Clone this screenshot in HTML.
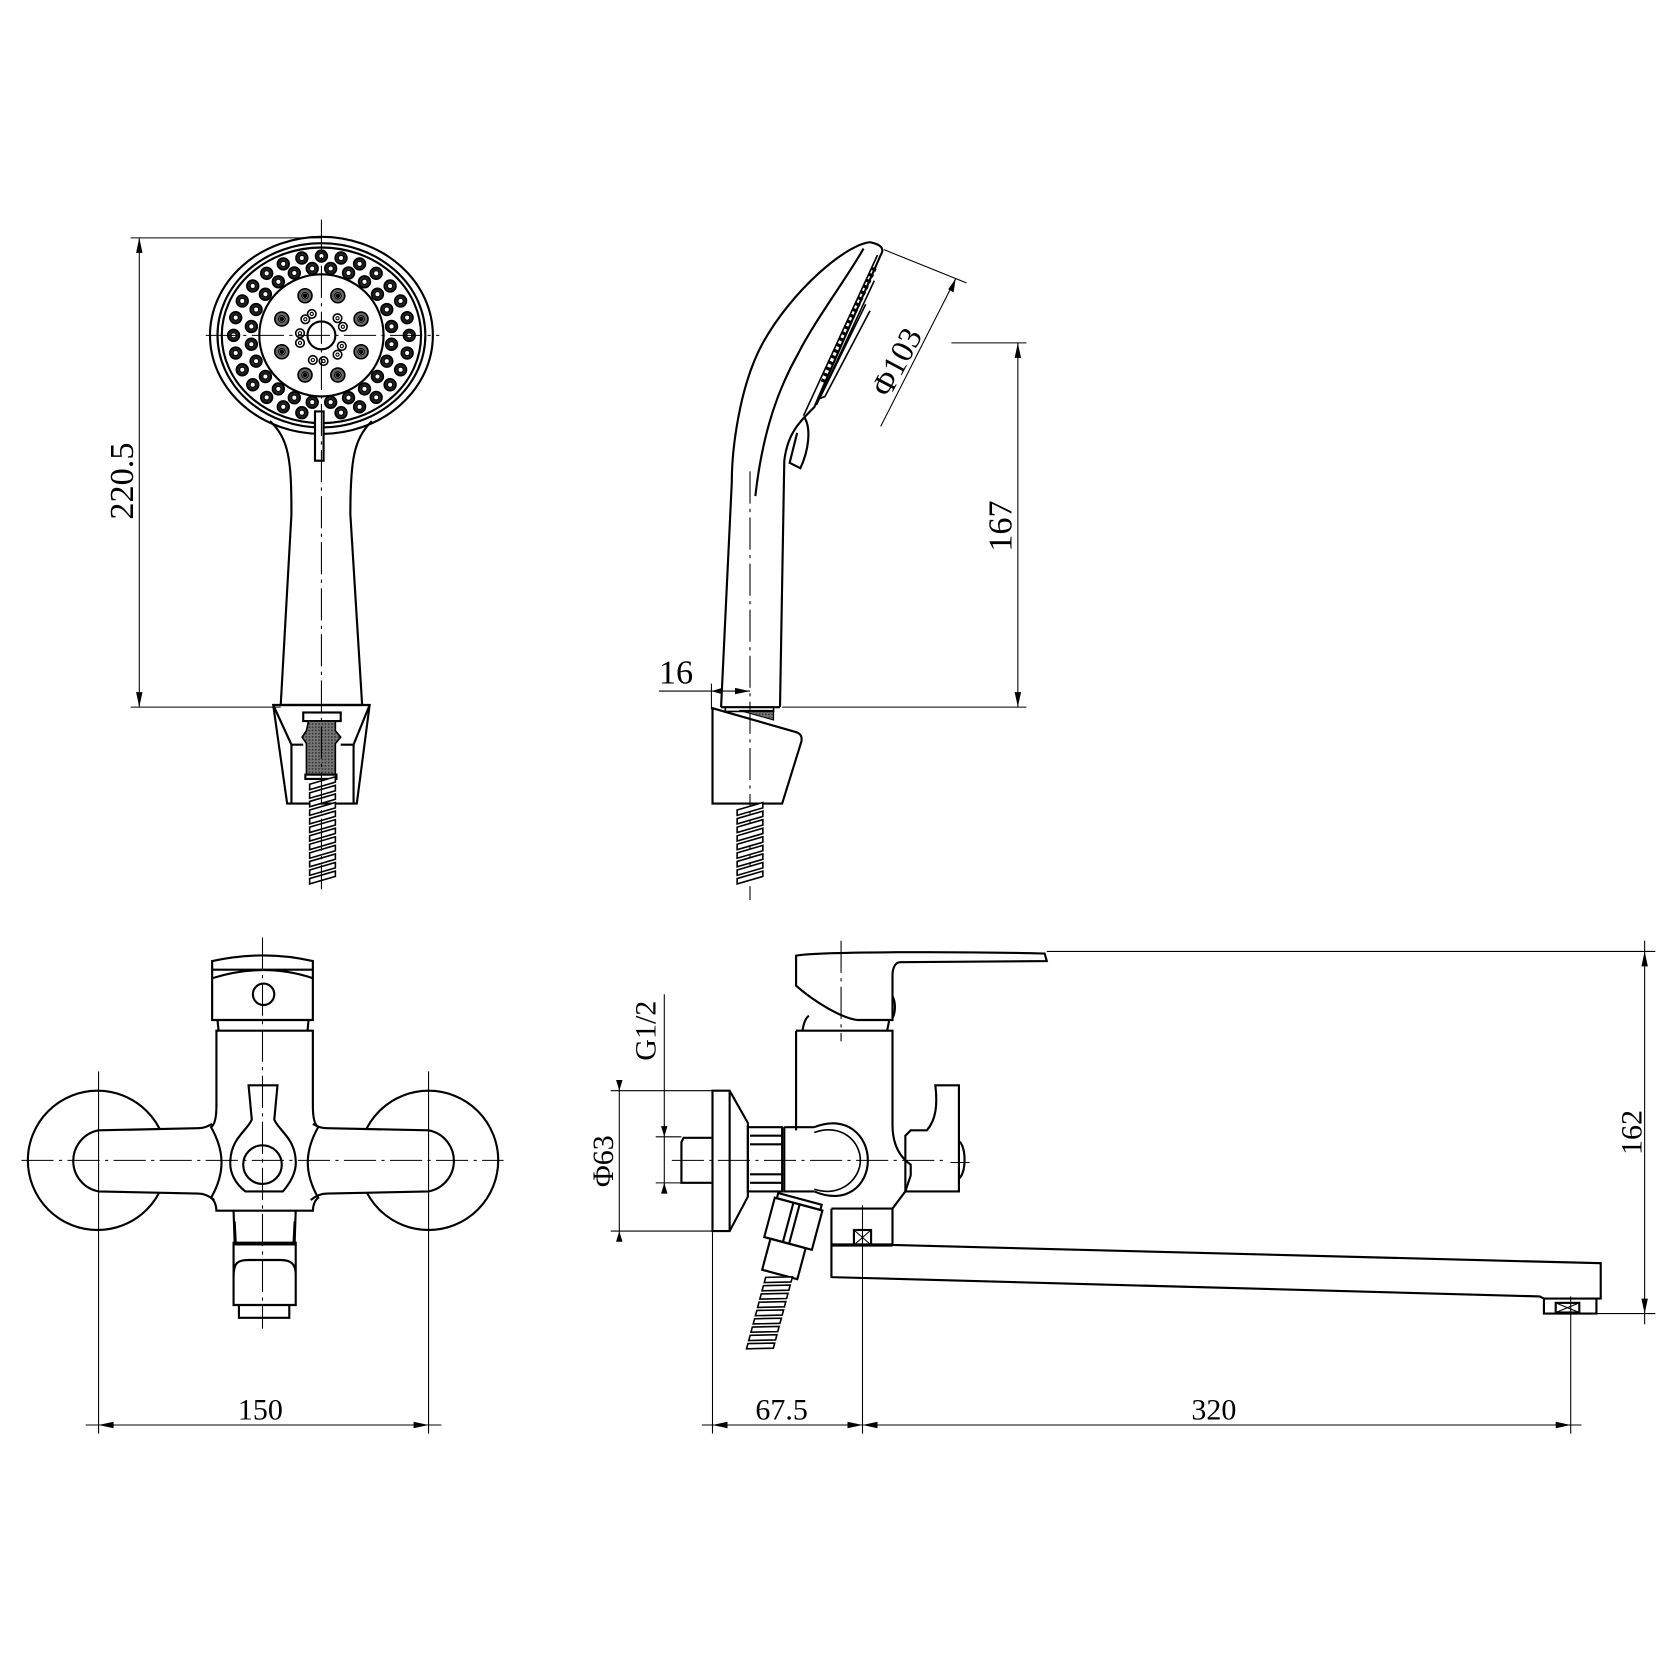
<!DOCTYPE html>
<html><head><meta charset="utf-8"><style>
html,body{margin:0;padding:0;background:#fff;}
svg{display:block}
text{font-family:"Liberation Serif",serif;fill:#000}
</style></head><body>
<svg width="1680" height="1680" viewBox="0 0 1568 1568" xmlns="http://www.w3.org/2000/svg">
<defs>
<pattern id="hatch" width="3" height="3" patternUnits="userSpaceOnUse"><rect width="3" height="3" fill="#777"/><rect width="1.5" height="1.5" fill="#333"/></pattern>
<g id="ho"><circle r="5.5" fill="#222" stroke="#000" stroke-width="1.5"/><circle r="2.4" fill="#fff" stroke="#000" stroke-width="1"/></g>
<g id="hm"><circle r="6.5" fill="#666" stroke="#000" stroke-width="1.5"/><circle r="3" fill="#fff" stroke="#000" stroke-width="1"/><circle r="1.2" fill="#000"/></g>
<g id="hs"><circle r="4" fill="#fff" stroke="#000" stroke-width="1.5"/><circle r="1.5" fill="none" stroke="#000" stroke-width="1"/></g>
<path id="st" d="M-12,4 L12,-3 L12,2 L-12,9 Z" fill="#fff" stroke="#000" stroke-width="1.5"/>
</defs>
<g fill="none" stroke="#000" stroke-width="2">

<!-- ===== Shower front ===== -->
<ellipse cx="300" cy="313" rx="104" ry="92"/>
<ellipse cx="300" cy="313" rx="97" ry="86"/>
<ellipse cx="300" cy="313" rx="93" ry="82"/>
<ellipse cx="300" cy="313" rx="58" ry="57"/>
<circle cx="300" cy="313" r="13"/>
<path d="M252,393 C270,410 272,430 272,480 L262,658 M347,393 C330,410 327,430 327,480 L338,658"/>
<line x1="262" y1="658" x2="338" y2="658"/>
<rect x="294" y="384" width="8" height="46" fill="#fff"/>
<g transform="translate(300,313)">
<use href="#ho" x="82" y="0"/><use href="#ho" x="-82" y="0"/>
<use href="#ho" x="80" y="16.5"/><use href="#ho" x="-80" y="16.5"/><use href="#ho" x="80" y="-16.5"/><use href="#ho" x="-80" y="-16.5"/>
<use href="#ho" x="73.9" y="32.1"/><use href="#ho" x="-73.9" y="32.1"/><use href="#ho" x="73.9" y="-32.1"/><use href="#ho" x="-73.9" y="-32.1"/>
<use href="#ho" x="64.1" y="46.1"/><use href="#ho" x="-64.1" y="46.1"/><use href="#ho" x="64.1" y="-46.1"/><use href="#ho" x="-64.1" y="-46.1"/>
<use href="#ho" x="51.1" y="57.9"/><use href="#ho" x="-51.1" y="57.9"/><use href="#ho" x="51.1" y="-57.9"/><use href="#ho" x="-51.1" y="-57.9"/>
<use href="#ho" x="35.6" y="66.7"/><use href="#ho" x="-35.6" y="66.7"/><use href="#ho" x="35.6" y="-66.7"/><use href="#ho" x="-35.6" y="-66.7"/>
<use href="#ho" x="18.3" y="72.2"/><use href="#ho" x="-18.3" y="72.2"/><use href="#ho" x="18.3" y="-72.2"/><use href="#ho" x="-18.3" y="-72.2"/>
<use href="#ho" x="0" y="-74"/>
<use href="#ho" x="65.4" y="8.3"/><use href="#ho" x="-65.4" y="8.3"/><use href="#ho" x="65.4" y="-8.3"/><use href="#ho" x="-65.4" y="-8.3"/>
<use href="#ho" x="61" y="24.1"/><use href="#ho" x="-61" y="24.1"/><use href="#ho" x="61" y="-24.1"/><use href="#ho" x="-61" y="-24.1"/>
<use href="#ho" x="52.3" y="38.4"/><use href="#ho" x="-52.3" y="38.4"/><use href="#ho" x="52.3" y="-38.4"/><use href="#ho" x="-52.3" y="-38.4"/>
<use href="#ho" x="40.2" y="50"/><use href="#ho" x="-40.2" y="50"/><use href="#ho" x="40.2" y="-50"/><use href="#ho" x="-40.2" y="-50"/>
<use href="#ho" x="25.3" y="58.2"/><use href="#ho" x="-25.3" y="58.2"/><use href="#ho" x="25.3" y="-58.2"/><use href="#ho" x="-25.3" y="-58.2"/>
<use href="#ho" x="8.6" y="62.4"/><use href="#ho" x="-8.6" y="62.4"/><use href="#ho" x="8.6" y="-62.4"/><use href="#ho" x="-8.6" y="-62.4"/>
<use href="#hm" x="37" y="15.3"/><use href="#hm" x="-37" y="15.3"/><use href="#hm" x="37" y="-15.3"/><use href="#hm" x="-37" y="-15.3"/>
<use href="#hm" x="15.3" y="37"/><use href="#hm" x="-15.3" y="37"/><use href="#hm" x="15.3" y="-37"/><use href="#hm" x="-15.3" y="-37"/>
<use href="#hs" x="-15" y="-15"/><use href="#hs" x="-9" y="-20"/><use href="#hs" x="15" y="-16"/><use href="#hs" x="20" y="-8"/>
<use href="#hs" x="-20" y="-2"/><use href="#hs" x="-20" y="7"/><use href="#hs" x="-8" y="23"/><use href="#hs" x="2" y="24"/>
<use href="#hs" x="19" y="10"/><use href="#hs" x="15" y="18"/>
</g>
<!-- holder -->
<path d="M255,658 L345,658 L333,750 L268,750 Z"/>
<path d="M255,658 L272,695 L272,750 M345,658 L330,695 L330,750 M272,695 L283,695 M330,695 L318,695"/>
<rect x="283" y="665" width="35" height="8" fill="#fff"/>
<path d="M288,673 L313,673 L313,682 L318,688 L313,694 L313,723 L286,723 L286,694 L282,688 L286,682 Z" fill="url(#hatch)" stroke-width="1.5"/>
<rect x="285" y="723" width="29" height="4"/>
<g transform="translate(301,0)">
<use href="#st" y="728"/><use href="#st" y="736"/><use href="#st" y="744"/><use href="#st" y="752"/><use href="#st" y="760"/><use href="#st" y="768"/><use href="#st" y="776"/><use href="#st" y="784"/><use href="#st" y="792"/><use href="#st" y="800"/><use href="#st" y="808"/><use href="#st" y="816"/>
</g>
<line x1="300" y1="205" x2="300" y2="830" stroke-width="1" stroke-dasharray="30,5,3,5"/>
<line x1="192" y1="313" x2="410" y2="313" stroke-width="1" stroke-dasharray="30,5,3,5"/>

<!-- dim 220.5 -->
<g stroke-width="1">
<line x1="122" y1="222" x2="300" y2="222"/>
<line x1="122" y1="660" x2="262" y2="660"/>
<line x1="130" y1="222" x2="130" y2="660"/>
</g>
<path d="M130,222 l-3,14 l6,0 Z M130,660 l-3,-14 l6,0 Z" fill="#000" stroke="none"/>

<!-- ===== Shower side ===== -->
<path d="M812,226 C790,228 740,270 712,320 C690,360 683,420 683,450 L673,660"/>
<path d="M812,226 C822,228 826,232 822,238 L760,380 C745,395 735,405 732,430 L728,660"/>
<path d="M806,232 C790,260 760,300 745,330 C728,360 712,400 705,463"/>
<path d="M819,238 L750,388 M816,262 L762,378 M812,290 L770,370 L765,372 L808,284" stroke-width="1.5"/>
<path d="M816,250 L775,340 L768,358" stroke-width="5" stroke-dasharray="3,3"/>
<path d="M744,404 L737,432 L747,437 C755,420 757,400 751,390"/>
<line x1="673" y1="660" x2="728" y2="660"/>
<line x1="700" y1="440" x2="700" y2="840" stroke-width="1" stroke-dasharray="30,5,3,5"/>
<path d="M665,661 L665,750 L730,750 L748,692 C749,686 746,684 742,683 L665,661 Z"/>
<path d="M690,663 L722,672 L722,663 Z" fill="url(#hatch)" stroke-width="1"/>
<rect x="677" y="660" width="45" height="4" stroke-width="1.5"/>
<g transform="translate(700,0)">
<use href="#st" y="752"/><use href="#st" y="760"/><use href="#st" y="768"/><use href="#st" y="776"/><use href="#st" y="784"/><use href="#st" y="792"/><use href="#st" y="800"/><use href="#st" y="808"/><use href="#st" y="816"/>
</g>
<g stroke-width="1">
<line x1="825" y1="233" x2="902" y2="264"/>
<line x1="892" y1="260" x2="822" y2="398"/>
<line x1="888" y1="320" x2="958" y2="320"/>
<line x1="730" y1="660" x2="958" y2="660"/>
<line x1="950" y1="320" x2="950" y2="660"/>
<line x1="615" y1="645" x2="700" y2="645"/>
<line x1="664" y1="638" x2="664" y2="662"/>
</g>
<path d="M892,260 l-2,13 l-5,-3 Z M950,320 l-3,14 l6,0 Z M950,660 l-3,-14 l6,0 Z M700,645 l-14,-3 l0,6 Z M664,645 l10,-3 l0,6 Z" fill="#000" stroke="none"/>

<!-- ===== Mixer front ===== -->
<circle cx="91" cy="1083" r="65"/>
<circle cx="400" cy="1083" r="65"/>
<path d="M198,1049 C192,1052 190,1053 185,1053 L92,1055 A29,29 0 0 0 92,1112 L185,1114 C190,1114 195,1116 200,1120" fill="#fff"/>
<path d="M292,1049 C298,1052 300,1053 305,1053 L400,1055 A29,29 0 0 1 400,1112 L305,1114 C300,1114 295,1116 290,1120" fill="#fff"/>
<path d="M202,1032 C202,1045 200,1050 197,1052 C210,1075 210,1095 197,1118 C200,1120 202,1125 202,1130 L292,1130 C292,1125 294,1120 297,1118 C284,1095 284,1075 297,1052 C294,1050 292,1045 292,1032 L292,962 L202,962 Z"/>
<path d="M232,1013 L259,1013 L256,1045 C260,1055 275,1062 276,1083 C277,1095 270,1105 264,1112 L229,1112 C220,1105 214,1095 215,1083 C216,1062 231,1055 235,1045 Z"/>
<circle cx="245" cy="1087" r="18"/>
<path d="M198,897 C230,890 262,890 292,897 L292,952 L198,952 Z"/>
<path d="M198,905 L292,905 M198,913 C230,903 262,903 292,913"/>
<circle cx="246" cy="928" r="10"/>
<path d="M203,952 L204,962 M288,952 L287,962"/>
<path d="M218,1130 L219,1160 L275,1160 L276,1130 M219,1140 L220,1160 M275,1140 L274,1160"/>
<path d="M218,1160 L276,1160 L276,1218 L218,1218 Z M218,1192 C218,1178 222,1176 232,1176 L262,1176 C272,1176 276,1180 276,1190"/>
<path d="M223,1218 L223,1230 L270,1230 L270,1218"/>
<line x1="218" y1="1161" x2="276" y2="1161" stroke-width="3"/>
<g stroke-width="1" stroke-dasharray="30,5,3,5">
<line x1="20" y1="1083" x2="470" y2="1083"/>
<line x1="245" y1="875" x2="245" y2="1240"/>
</g>
<g stroke-width="1">
<line x1="92" y1="1000" x2="92" y2="1338"/>
<line x1="400" y1="1000" x2="400" y2="1338"/>
<line x1="80" y1="1330" x2="412" y2="1330"/>
</g>
<path d="M92,1330 l14,-3 l0,6 Z M400,1330 l-14,-3 l0,6 Z" fill="#000" stroke="none"/>

<!-- ===== Mixer side ===== -->
<path d="M743,892 C760,888 900,888 975,890 L977,897 L840,898 C835,898 833,905 833,910 L833,952 L800,952 C785,950 760,935 743,920 Z"/>
<path d="M833,930 C836,935 836,945 833,950"/>
<path d="M749,962 C750,955 752,950 755,948 M828,962 L830,952"/>
<path d="M743,962 L833,962 L833,1050 C833,1068 840,1080 850,1087 L850,1097 L845,1112 L833,1128 L776,1128"/>
<path d="M743,962 L743,1055"/>
<path d="M845,1060 L845,1112 L895,1112 L895,1013 L873,1013 C875,1030 874,1045 865,1055 L850,1055 Z"/>
<path d="M895,1065 C902,1070 902,1095 895,1100"/>
<path d="M732,1052 L732,1112 L760,1112 M760,1052 L732,1052 M760,1052 C790,1040 810,1060 810,1083 C810,1106 790,1125 760,1112"/>
<path d="M760,1057 C785,1048 803,1065 803,1083 C803,1100 785,1118 760,1110" stroke-width="1.5"/>
<path d="M698,1052 L730,1052 L730,1112 L698,1112 Z M700,1068 L730,1068 M700,1096 L730,1096 M700,1060 L730,1060 M700,1104 L730,1104"/>
<path d="M665,1018 L681,1018 L698,1048 L698,1117 L681,1149 L665,1149 Z M681,1018 L681,1149"/>
<path d="M664,1062 L638,1062 L636,1066 L636,1104 L664,1104"/>
<path d="M776,1128 L776,1192 L1437,1210 L1441,1212 L1490,1212 L1494,1212 L1494,1179 L833,1162 L833,1128"/>
<line x1="776" y1="1162" x2="833" y2="1162" stroke-width="3"/>
<path d="M1441,1212 L1441,1226 L1490,1226 L1490,1212"/>
<rect x="1452" y="1216" width="22" height="9"/>
<path d="M1452,1216 L1474,1225 M1474,1216 L1452,1225" stroke-width="1"/>
<rect x="797" y="1148" width="16" height="14"/>
<path d="M797,1148 L813,1162 M813,1148 L797,1162" stroke-width="1"/>
<g transform="rotate(15 740 1140)">
<rect x="720" y="1118" width="42" height="5"/>
<rect x="718" y="1123" width="46" height="38"/>
<line x1="736" y1="1123" x2="736" y2="1161"/><line x1="742" y1="1123" x2="742" y2="1161"/>
<rect x="724" y="1161" width="34" height="30"/>
<use href="#st" x="741" y="1193"/><use href="#st" x="741" y="1201"/><use href="#st" x="741" y="1209"/><use href="#st" x="741" y="1217"/><use href="#st" x="741" y="1225"/><use href="#st" x="741" y="1233"/><use href="#st" x="741" y="1241"/><use href="#st" x="741" y="1249"/><use href="#st" x="741" y="1257"/>
</g>
<g stroke-width="1" stroke-dasharray="30,5,3,5">
<line x1="627" y1="1083" x2="880" y2="1083"/>
<line x1="887" y1="1085" x2="905" y2="1085"/>
<line x1="785" y1="878" x2="785" y2="972"/>
</g>
<line x1="805" y1="1125" x2="805" y2="1338" stroke-width="1"/>
<line x1="1466" y1="1210" x2="1466" y2="1338" stroke-width="1"/>
<line x1="665" y1="1150" x2="665" y2="1338" stroke-width="1"/>
<g stroke-width="1">
<line x1="977" y1="888" x2="1545" y2="888"/>
<line x1="1490" y1="1226" x2="1545" y2="1226"/>
<line x1="1535" y1="878" x2="1535" y2="1236"/>
<line x1="570" y1="1018" x2="665" y2="1018"/>
<line x1="570" y1="1149" x2="681" y2="1149"/>
<line x1="578" y1="1008" x2="578" y2="1158"/>
<line x1="612" y1="1061" x2="636" y2="1061"/>
<line x1="612" y1="1104" x2="636" y2="1104"/>
<line x1="620" y1="928" x2="620" y2="1112"/>
<line x1="655" y1="1330" x2="1476" y2="1330"/>
</g>
<path d="M1535,888 l-3,14 l6,0 Z M1535,1226 l-3,-14 l6,0 Z M578,1018 l-3,-10 l6,0 Z M578,1149 l-3,10 l6,0 Z M620,1061 l-3,-10 l6,0 Z M620,1104 l-3,10 l6,0 Z M665,1330 l14,-3 l0,6 Z M805,1330 l-14,-3 l0,6 Z M805,1330 l14,-3 l0,6 Z M1466,1330 l-14,-3 l0,6 Z" fill="#000" stroke="none"/>
</g>

<text x="0" y="0" font-size="32" transform="translate(124,485) rotate(-90)">220.5</text>
<text x="0" y="0" font-size="32" transform="translate(944,515) rotate(-90)">167</text>
<text x="0" y="0" font-size="30" transform="translate(830,372) rotate(-62)">Φ103</text>
<text x="615" y="638" font-size="32">16</text>
<text x="222" y="1325" font-size="28">150</text>
<text x="705" y="1325" font-size="28">67.5</text>
<text x="1112" y="1325" font-size="28">320</text>
<text x="0" y="0" font-size="28" transform="translate(1532,1078) rotate(-90)">162</text>
<text x="0" y="0" font-size="28" transform="translate(572,1108) rotate(-90)">Φ63</text>
<text x="0" y="0" font-size="28" transform="translate(612,990) rotate(-90)">G1/2</text>
</svg>
</body></html>
